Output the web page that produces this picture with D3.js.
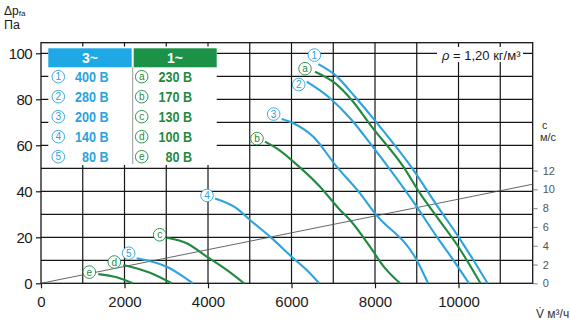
<!DOCTYPE html>
<html><head><meta charset="utf-8">
<script src="https://cdn.jsdelivr.net/npm/d3@7"></script>
<style>
html,body{margin:0;padding:0;background:#fff;}
svg{display:block;font-family:"Liberation Sans",Arial,sans-serif;}
</style></head>
<body><svg id="c" width="570" height="323"></svg>
<script>
// ---------- data ----------
const xTicks = [0, 2000, 4000, 6000, 8000, 10000];
const yTicks = [0, 20, 40, 60, 80, 100];
const cTicks = [0, 2, 4, 6, 8, 10, 12];
const xMax = 11777, yMax = 104.6, cAtYMax = 49; // axis extents

const series3Names = ["1", "2", "3", "4", "5"];
const series3Volts = ["400 В", "280 В", "200 В", "140 В", "80 В"];
const series1Names = ["a", "b", "c", "d", "e"];
const series1Volts = ["230 В", "170 В", "130 В", "100 В", "80 В"];

// flow V (m³/h) and pressure Δp (Pa)
const c1V = [6643, 7042, 7521, 8000, 8918, 9477, 9996, 10355, 10695];
const c1P = [95.3, 90.6, 81.1, 70.7, 49.3, 34.0, 20.3, 10.1, 0];
const c2V = [6364, 6882, 7441, 7880, 8998, 9477, 9876, 10251];
const c2P = [87.7, 81.1, 71.0, 60.9, 33.3, 20.3, 10.1, 0];
const c3V = [5764, 6043, 6523, 7082, 7641, 8000, 8998, 9270];
const c3P = [71.4, 69.6, 63.7, 50.7, 39.1, 30.4, 10.1, 0];
const c4V = [4168, 4687, 5006, 5485, 6043, 6364, 6666];
const c4P = [36.9, 32.6, 27.5, 20.3, 10.9, 5.8, 0];
const c5V = [2292, 3010, 3409, 3633];
const c5P = [10.9, 7.2, 2.9, 0];
const aV = [6563, 7042, 7441, 7920, 8678, 9078, 9477, 9996, 10527];
const aP = [92.0, 87.0, 79.7, 68.1, 50.7, 39.1, 29.0, 15.9, 0];
const bV = [5365, 5700, 6043, 6683, 7162, 7401, 7880, 8200, 8599];
const bP = [61.6, 58.0, 52.9, 42.0, 31.9, 27.5, 15.9, 7.5, 0];
const cV = [3010, 3489, 3969, 4448, 4862];
const cP = [19.8, 17.4, 11.6, 5.8, 0];
const dV = [1972, 2611, 3130];
const dP = [7.96, 4.6, 0];
const eV = [1372, 1813, 2196];
const eP = [4.0, 2.6, 0];

// air velocity line: V vs c (m/s)
const velV = [0, 11777];
const velC = [0, 10.55];

// ---------- styling ----------
const BLUE = "#2ba3dc", GREEN = "#1f8a40";
const HBLUE = "#1ea9e6", HGREEN = "#1b9247";
const curves = [
  {name: "1", V: c1V, P: c1P, col: BLUE, off: [-4, -9]},
  {name: "2", V: c2V, P: c2P, col: BLUE, off: [-8, 3]},
  {name: "3", V: c3V, P: c3P, col: BLUE, off: [-8, -5]},
  {name: "4", V: c4V, P: c4P, col: BLUE, off: [-8, -3]},
  {name: "5", V: c5V, P: c5P, col: BLUE, off: [-8, -5]},
  {name: "a", V: aV, P: aP, col: GREEN, off: [-10, -3]},
  {name: "b", V: bV, P: bP, col: GREEN, off: [-8, -3]},
  {name: "c", V: cV, P: cP, col: GREEN, off: [-7, -3]},
  {name: "d", V: dV, P: dP, col: GREEN, off: [-9, -3]},
  {name: "e", V: eV, P: eP, col: GREEN, off: [-9, -2]}
];

const svg = d3.select("#c");
const L = 41, R = 532.7, T = 42.7, B = 283.3;
const x = d3.scaleLinear().domain([0, xMax]).range([L, R]);
const y = d3.scaleLinear().domain([0, yMax]).range([B, T]);
const yc = d3.scaleLinear().domain([0, 12]).range([y(0), y(cAtYMax)]);
const INK = "#161616";

// grid
const g = svg.append("g");
g.selectAll("line.gx").data(d3.range(1000, xMax, 1000)).join("line")
  .attr("x1", d => x(d)).attr("x2", d => x(d)).attr("y1", T).attr("y2", B)
  .attr("stroke", INK).attr("stroke-width", 1.2);
g.selectAll("line.gy").data(d3.range(10, 101, 10)).join("line")
  .attr("y1", d => y(d)).attr("y2", d => y(d)).attr("x1", L).attr("x2", R)
  .attr("stroke", INK).attr("stroke-width", 1.2);
svg.append("rect").attr("x", L).attr("y", T).attr("width", R - L).attr("height", B - T)
  .attr("fill", "none").attr("stroke", INK).attr("stroke-width", 1.3);

// axes
const ax = svg.append("g").attr("transform", `translate(0,${B})`)
  .call(d3.axisBottom(x).tickValues(xTicks).tickSize(5).tickPadding(8).tickFormat(d3.format("d")));
const ay = svg.append("g").attr("transform", `translate(${L},0)`)
  .call(d3.axisLeft(y).tickValues(yTicks).tickSize(5).tickPadding(4).tickFormat(d3.format("d")));
[ax, ay].forEach(a => {
  a.select(".domain").remove();
  a.selectAll("line").attr("stroke", INK).attr("stroke-width", 1.2);
  a.selectAll("text").attr("font-size", 15).attr("fill", "#1a1a1a")
    .attr("font-family", "Liberation Sans, Arial, sans-serif");
});
ay.selectAll("text").attr("dy", "0.36em").attr("letter-spacing", -0.6);

const ac = svg.append("g").attr("transform", `translate(${R},0)`)
  .call(d3.axisRight(yc).tickValues(cTicks).tickSize(5).tickPadding(5));
ac.select(".domain").remove();
ac.selectAll("line").attr("stroke", "#666").attr("stroke-width", 0.8);
ac.selectAll("text").attr("font-size", 11).attr("fill", "#555")
  .attr("font-family", "Liberation Sans, Arial, sans-serif");

// velocity line
svg.append("path")
  .datum(velV.map((v, i) => [v, velC[i]]))
  .attr("d", d3.line().x(d => x(d[0])).y(d => yc(d[1])))
  .attr("stroke", "#555").attr("stroke-width", 0.9).attr("fill", "none");

// curves
const line = d3.line().x(d => x(d[0])).y(d => y(d[1])).curve(d3.curveMonotoneX);
curves.forEach(c => {
  const pts = c.V.map((v, i) => [v, c.P[i]]);
  svg.append("path").datum(pts).attr("d", line)
    .attr("fill", "none").attr("stroke", c.col).attr("stroke-width", 2.1);
});
function badge(parent, cx, cy, txt, col, r) {
  parent.append("circle").attr("cx", cx).attr("cy", cy).attr("r", r)
    .attr("fill", "#fff").attr("stroke", col).attr("stroke-width", 0.9);
  parent.append("text").attr("x", cx).attr("y", cy).attr("dy", "0.36em")
    .attr("text-anchor", "middle").attr("font-size", r * 1.6).attr("fill", col)
    .text(txt);
}
curves.forEach(c => {
  const px = x(c.V[0]) + c.off[0], py = y(c.P[0]) + c.off[1];
  badge(svg, px, py, c.name, c.col, 6.3);
});

// legend
const lg = svg.append("g");
lg.append("rect").attr("x", 48.3).attr("y", 46.5).attr("width", 168.4).attr("height", 118.5).attr("fill", "#fff");
lg.append("rect").attr("x", 48.3).attr("y", 48.3).attr("width", 83.4).attr("height", 19).attr("fill", HBLUE);
lg.append("rect").attr("x", 133.7).attr("y", 48.3).attr("width", 83).attr("height", 19).attr("fill", HGREEN);
lg.append("text").attr("x", 90).attr("y", 63).attr("text-anchor", "middle").attr("fill", "#fff")
  .attr("font-weight", "bold").attr("font-size", 14).text("3~");
lg.append("text").attr("x", 175).attr("y", 63).attr("text-anchor", "middle").attr("fill", "#fff")
  .attr("font-weight", "bold").attr("font-size", 14).text("1~");
lg.append("line").attr("x1", 132.7).attr("x2", 132.7).attr("y1", 67.3).attr("y2", 164)
  .attr("stroke", "#999").attr("stroke-width", 1);
series3Names.forEach((n, i) => {
  const cy = 76.7 + 20 * i;
  badge(lg, 58.3, cy, n, BLUE, 6.3);
  lg.append("text").attr("x", 108.5).attr("y", cy + 5.3).attr("text-anchor", "end")
    .attr("font-weight", "bold").attr("font-size", 14).attr("fill", BLUE)
    .attr("transform", `translate(108.5,0) scale(0.9,1) translate(-108.5,0)`)
    .text(series3Volts[i]);
});
series1Names.forEach((n, i) => {
  const cy = 76.7 + 20 * i;
  badge(lg, 141.7, cy, n, GREEN, 6.3);
  lg.append("text").attr("x", 192).attr("y", cy + 5.3).attr("text-anchor", "end")
    .attr("font-weight", "bold").attr("font-size", 14).attr("fill", GREEN)
    .attr("transform", `translate(192,0) scale(0.9,1) translate(-192,0)`)
    .text(series1Volts[i]);
});

// density note
svg.append("rect").attr("x", 437).attr("y", 47).attr("width", 86).attr("height", 15).attr("fill", "#fff");
const rho = svg.append("text").attr("x", 442).attr("y", 59.5).attr("font-size", 13).attr("fill", "#1a1a1a");
rho.append("tspan").attr("font-style", "italic").text("ρ");
rho.append("tspan").text(" = 1,20 кг/м³");

// axis titles
const t1 = svg.append("text").attr("x", 4).attr("y", 14.5).attr("font-size", 12).attr("fill", "#1a1a1a");
t1.append("tspan").text("Δp");
t1.append("tspan").attr("font-size", 8).attr("dy", 1).text("fa");
svg.append("text").attr("x", 4).attr("y", 29).attr("font-size", 12.5).attr("fill", "#1a1a1a").text("Па");
svg.append("text").attr("x", 542).attr("y", 129).attr("font-size", 11).attr("fill", "#333").text("c");
svg.append("text").attr("x", 540).attr("y", 141).attr("font-size", 11).attr("fill", "#333").text("м/с");
svg.append("text").attr("x", 536).attr("y", 318).attr("font-size", 12).attr("fill", "#333").text("V̇ м³/ч");
</script></body></html>
